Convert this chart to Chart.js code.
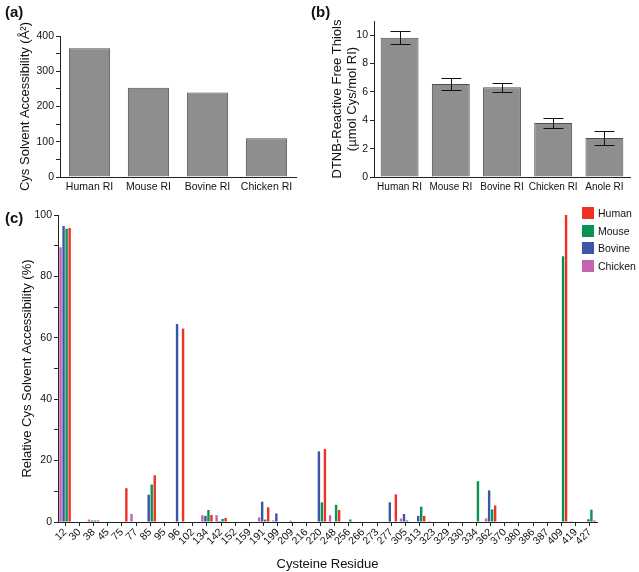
<!DOCTYPE html>
<html>
<head>
<meta charset="utf-8">
<script src="https://cdn.jsdelivr.net/npm/chart.js@4.4.1/dist/chart.umd.min.js"></script>
<style>
  html, body { margin: 0; padding: 0; background: #fff; }
  #wrap { position: relative; width: 639px; height: 572px; overflow: hidden; font-family: "Liberation Sans", Arial, sans-serif; }
  canvas { position: absolute; }
  .panel { position: absolute; font-weight: bold; font-size: 15px; color: #111; }
  #legendC { position: absolute; left: 582px; top: 207px; font-size: 10.5px; color: #111; }
  #legendC div { height: 17.7px; display: flex; align-items: flex-start; }
  #legendC span.box { display: inline-block; width: 12px; height: 12px; margin-right: 4px; }
  #legendC span.txt { line-height: 12px; }
</style>
</head>
<body>
<div id="wrap">
  <canvas id="chartA" width="320" height="200" style="left:0;top:0;width:320px;height:200px"></canvas>
  <canvas id="chartB" width="319" height="200" style="left:320px;top:0;width:319px;height:200px"></canvas>
  <canvas id="chartC" width="639" height="377" style="left:0;top:195px;width:639px;height:377px"></canvas>
  <div class="panel" style="left:5px;top:3px">(a)</div>
  <div class="panel" style="left:311px;top:3px">(b)</div>
  <div class="panel" style="left:5px;top:209px">(c)</div>
  <div id="legendC"></div>
</div>
<script>
//Panel (a) data
const accLabels = ['Human RI', 'Mouse RI', 'Bovine RI', 'Chicken RI'];
const accValues = [365, 253, 240, 110];

//Panel (b) data
const thiolLabels = ['Human RI', 'Mouse RI', 'Bovine RI', 'Chicken RI', 'Anole RI'];
const thiolValues = [9.82, 6.56, 6.32, 3.80, 2.75];
const thiolErrors = [0.47, 0.42, 0.30, 0.37, 0.48];

//Panel (c) data
const residues = ['12', '30', '38', '45', '75', '77', '85', '95', '96', '102', '134', '142', '152', '159',
    '191', '199', '209', '216', '220', '248', '256', '266', '273', '277', '305', '313', '323', '329',
    '330', '334', '362', '370', '380', '386', '387', '409', '419', '427'];
const humanAcc   = [95.8, 0, 0.5, 0, 11.0, 0, 15.2, 0, 63.0, 0, 2.3, 1.3, 0, 0, 4.8, 0, 0, 0, 23.8, 3.9, 0, 0, 0, 9.0, 0, 2.0, 0, 0.2, 0, 0, 5.4, 0, 0, 0, 0, 100.5, 0, 0.5];
const mouseAcc   = [95.5, 0, 0.5, 0, 0, 0, 12.2, 0, 0, 0, 3.9, 1.0, 0, 0, 0.8, 0, 0, 0, 6.4, 5.6, 0.8, 0, 0, 0, 0.5, 5.0, 0, 0, 0, 13.3, 4.1, 0, 0, 0, 0, 86.6, 0, 4.0];
const bovineAcc  = [96.4, 0, 0.5, 0, 0, 0, 8.9, 0, 64.5, 0, 2.0, 0.3, 0, 0, 6.6, 2.8, 0.4, 0, 23.0, 0, 0, 0, 0, 6.4, 2.6, 2.0, 0, 0, 0, 0, 10.3, 0, 0, 0, 0, 0, 0, 0.9];
const chickenAcc = [89.5, 0, 0.8, 0, 0, 2.6, 0, 0, 0, 0, 2.2, 2.2, 0, 0, 1.5, 0.5, 0, 0, 0, 2.2, 0, 0, 0, 0, 1.1, 0, 0.3, 0, 0, 0, 1.2, 0, 0, 0, 0, 0, 0.3, 0];
const speciesNames = ['Human', 'Mouse', 'Bovine', 'Chicken'];
const speciesColors = ['#ED3124', '#0C9250', '#3C56A6', '#C165AE'];

const FONT = '"Liberation Sans", Arial, sans-serif';
const AXIS = '#222';
const BAR_GRAY = '#8E8E8E';
const BAR_EDGE = '#4F4F4F';

Chart.defaults.font.family = FONT;
Chart.defaults.color = '#111';

//y axis with labelled major ticks and blank minor ticks
function yAxis(max, step, major, width, titleText, titlePad) {
    return {
        min: 0,
        max: max,
        afterFit: function(scale) { scale.width = width; },
        border: { display: true, color: AXIS, width: 1 },
        grid: { display: true, drawOnChartArea: false, drawTicks: true, tickLength: 4, tickColor: AXIS },
        ticks: {
            stepSize: step,
            padding: 2,
            font: { size: 10.5 },
            callback: function(v) { return (Math.abs(v % major) < 1e-6) ? v : ''; }
        },
        title: { display: true, text: titleText, font: { size: 13, lineHeight: 1.15 }, padding: { top: titlePad, bottom: 0 } }
    };
}

//x axis for the grey bar panels: line only, no tick marks
function plainXAxis(size) {
    return {
        afterFit: function(scale) { scale.height = 23; },
        border: { display: true, color: AXIS, width: 1 },
        grid: { display: true, drawOnChartArea: false, drawTicks: false },
        ticks: { padding: 4, minRotation: 0, maxRotation: 0, autoSkip: false, font: { size: size } }
    };
}

//Error bars for panel (b)
const errorBarPlugin = {
    id: 'errorBars',
    afterDatasetsDraw(chart, args, opts) {
        if (!opts.errors) return;
        const ctx = chart.ctx;
        const y = chart.scales.y;
        const meta = chart.getDatasetMeta(0);
        const vals = chart.data.datasets[0].data;
        ctx.save();
        ctx.strokeStyle = '#111';
        ctx.lineWidth = 1;
        meta.data.forEach(function(bar, i) {
            const x = Math.round(bar.x) + 0.5;
            const top = Math.round(y.getPixelForValue(vals[i] + opts.errors[i])) + 0.5;
            const bot = Math.round(y.getPixelForValue(vals[i] - opts.errors[i])) + 0.5;
            const half = opts.capWidth / 2;
            ctx.beginPath();
            ctx.moveTo(x, top); ctx.lineTo(x, bot);
            ctx.moveTo(x - half, top); ctx.lineTo(x + half, top);
            ctx.moveTo(x - half, bot); ctx.lineTo(x + half, bot);
            ctx.stroke();
        });
        ctx.restore();
    }
};

function renderAccessChart() {
    new Chart(document.getElementById('chartA'), {
        type: 'bar',
        data: {
            labels: accLabels,
            datasets: [{
                data: accValues,
                backgroundColor: BAR_GRAY,
                borderColor: BAR_EDGE,
                borderWidth: 1,
                barPercentage: 0.7,
                categoryPercentage: 1
            }]
        },
        options: {
            responsive: false,
            animation: false,
            layout: { padding: { top: 36, right: 24, left: 0, bottom: 0 } },
            plugins: { legend: { display: false }, tooltip: { enabled: false } },
            scales: {
                x: plainXAxis(10.5),
                y: yAxis(400, 50, 100, 60, 'Cys Solvent Accessibility (Å²)', 18)
            }
        }
    });
}

function renderThiolChart() {
    new Chart(document.getElementById('chartB'), {
        type: 'bar',
        data: {
            labels: thiolLabels,
            datasets: [{
                data: thiolValues,
                backgroundColor: BAR_GRAY,
                borderColor: BAR_EDGE,
                borderWidth: 1,
                barPercentage: 0.74,
                categoryPercentage: 1
            }]
        },
        options: {
            responsive: false,
            animation: false,
            layout: { padding: { top: 21, right: 9, left: 0, bottom: 0 } },
            plugins: {
                legend: { display: false },
                tooltip: { enabled: false },
                errorBars: { errors: thiolErrors, capWidth: 20 }
            },
            scales: {
                x: plainXAxis(10),
                y: yAxis(11, 1, 2, 54, ['DTNB-Reactive Free Thiols', '(µmol Cys/mol RI)'], 10)
            }
        },
        plugins: [errorBarPlugin]
    });
}

function renderResidueChart() {
    const series = [chickenAcc, bovineAcc, mouseAcc, humanAcc];
    const order = [3, 2, 1, 0];
    const datasets = series.map(function(vals, i) {
        return {
            label: speciesNames[order[i]],
            data: vals,
            backgroundColor: speciesColors[order[i]],
            borderWidth: 0,
            barPercentage: 0.8,
            categoryPercentage: 0.85
        };
    });
    new Chart(document.getElementById('chartC'), {
        type: 'bar',
        data: { labels: residues, datasets: datasets },
        options: {
            responsive: false,
            animation: false,
            layout: { padding: { top: 20, right: 42, left: 0, bottom: 0 } },
            plugins: { legend: { display: false }, tooltip: { enabled: false } },
            scales: {
                x: {
                    afterFit: function(scale) { scale.height = 50; },
                    border: { display: true, color: AXIS, width: 1 },
                    grid: { display: true, offset: false, drawOnChartArea: false, drawTicks: true, tickLength: 4, tickColor: AXIS },
                    ticks: { minRotation: 45, maxRotation: 45, autoSkip: false, padding: 0, font: { size: 10.5 } },
                    title: { display: true, text: 'Cysteine Residue', font: { size: 13 }, padding: { top: 2, bottom: 0 } }
                },
                y: yAxis(100, 10, 20, 58, 'Relative Cys Solvent Accessibility (%)', 20)
            }
        }
    });

    //Legend, listed Human first
    const legend = document.getElementById('legendC');
    speciesNames.forEach(function(name, i) {
        const row = document.createElement('div');
        row.innerHTML = '<span class="box" style="background:' + speciesColors[i] + '"></span><span class="txt">' + name + '</span>';
        legend.appendChild(row);
    });
}

renderAccessChart();
renderThiolChart();
renderResidueChart();
</script>
</body>
</html>
